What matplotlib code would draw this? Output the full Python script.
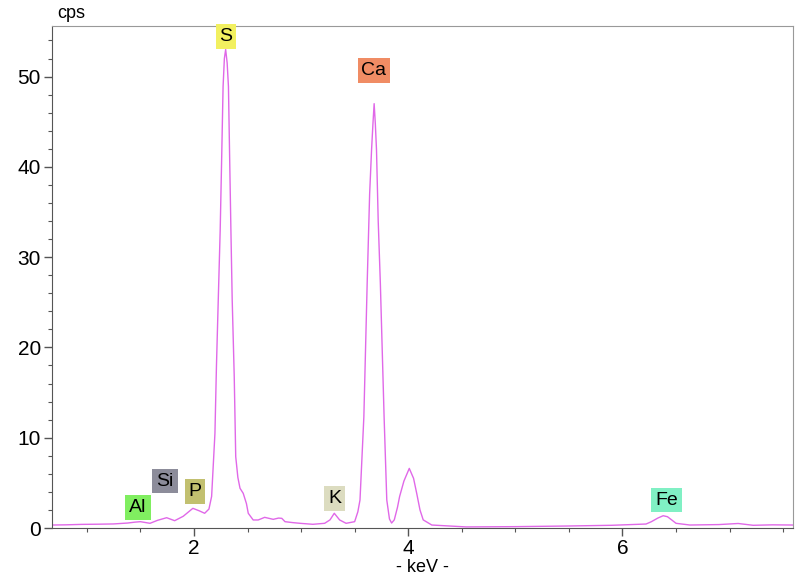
import matplotlib
matplotlib.use("Agg")
import matplotlib.pyplot as plt
from matplotlib.ticker import MultipleLocator

plt.rcParams["font.family"] = ["Liberation Sans", "DejaVu Sans"]

# Spectrum (keV, cps)
energy = [0.675, 0.80, 0.95, 1.10, 1.25, 1.38, 1.45, 1.50, 1.59, 1.66, 1.745, 1.82,
          1.90, 1.99, 2.05, 2.10, 2.14, 2.165, 2.196, 2.21, 2.227, 2.245, 2.258, 2.272,
          2.284, 2.296, 2.31, 2.322, 2.334, 2.345, 2.357, 2.376, 2.39, 2.41, 2.43, 2.46,
          2.49, 2.507, 2.553, 2.60, 2.66, 2.74, 2.79, 2.82, 2.85, 2.92, 2.99, 3.11, 3.22,
          3.27, 3.31, 3.36, 3.42, 3.50, 3.53, 3.55, 3.586, 3.617, 3.64, 3.658, 3.671,
          3.682, 3.693, 3.704, 3.72, 3.74, 3.775, 3.80, 3.825, 3.845, 3.87, 3.90, 3.92,
          3.96, 4.01, 4.05, 4.08, 4.11, 4.14, 4.22, 4.54, 5.00, 5.48, 5.90, 6.22, 6.27,
          6.33, 6.38, 6.42, 6.46, 6.50, 6.63, 6.90, 7.08, 7.22, 7.40, 7.59]
cps = [0.33, 0.35, 0.40, 0.42, 0.45, 0.55, 0.65, 0.70, 0.52, 0.85, 1.14, 0.81,
       1.30, 2.18, 1.90, 1.63, 2.10, 3.50, 10.5, 17.9, 25.3, 33.0, 40.5, 48.9,
       52.0, 53.0, 51.5, 48.9, 40.5, 33.0, 25.3, 16.8, 7.9, 5.6, 4.4, 3.84,
       2.70, 1.63, 0.89, 0.89, 1.18, 0.96, 1.10, 1.07, 0.70, 0.60, 0.52, 0.41, 0.52,
       0.90, 1.63, 0.89, 0.52, 0.70, 1.80, 3.10, 12.3, 27.1, 37.0, 41.9, 44.8,
       47.0, 44.8, 41.9, 34.0, 27.1, 12.3, 3.10, 1.00, 0.55, 0.90, 2.30, 3.50,
       5.20, 6.60, 5.50, 3.80, 2.00, 0.90, 0.33, 0.12, 0.15, 0.22, 0.30, 0.44, 0.70,
       1.10, 1.36, 1.25, 0.89, 0.52, 0.33, 0.38, 0.50, 0.30, 0.35, 0.33]

# Element labels
elements = ["Al", "Si", "P", "S", "K", "Ca", "Fe"]
label_x = [1.478, 1.73, 2.01, 2.30, 3.315, 3.68, 6.41]
label_y = [2.3, 5.2, 4.0, 54.4, 3.3, 50.7, 3.1]
label_colors = ["#80ee60", "#8c8c9a", "#c2c070", "#f2f060", "#dcdcc0", "#f08c64", "#80f0c4"]

fig = plt.figure(figsize=(8, 5.78), dpi=100)
ax = fig.add_axes([0.065, 0.0865, 0.926, 0.8685])

ax.plot(energy, cps, color="#e068e8", linewidth=1.0)

for name, x, y, c in zip(elements, label_x, label_y, label_colors):
    ax.text(x, y, name, ha="center", va="center", fontsize=14,
            bbox=dict(boxstyle="square,pad=0.2", facecolor=c, edgecolor="none"))

ax.set_xlim(0.675, 7.59)
ax.set_ylim(0, 55.6)
ax.xaxis.set_major_locator(MultipleLocator(2))
ax.xaxis.set_minor_locator(MultipleLocator(0.5))
ax.yaxis.set_major_locator(MultipleLocator(10))
ax.yaxis.set_minor_locator(MultipleLocator(2))
ax.tick_params(axis="both", which="major", length=6, width=1, labelsize=15,
               color="#555555", pad=2)
ax.tick_params(axis="both", which="minor", length=3, width=0.8, color="#555555")

for side in ["left", "bottom"]:
    ax.spines[side].set_color("#555555")
for side in ["top", "right"]:
    ax.spines[side].set_color("#999999")

fig.text(0.071, 0.976, "cps", fontsize=13, ha="left", va="center")
fig.text(0.528, 0.018, "- keV -", fontsize=13, ha="center", va="center")

plt.savefig("out.png", dpi=100)
plt.close()
